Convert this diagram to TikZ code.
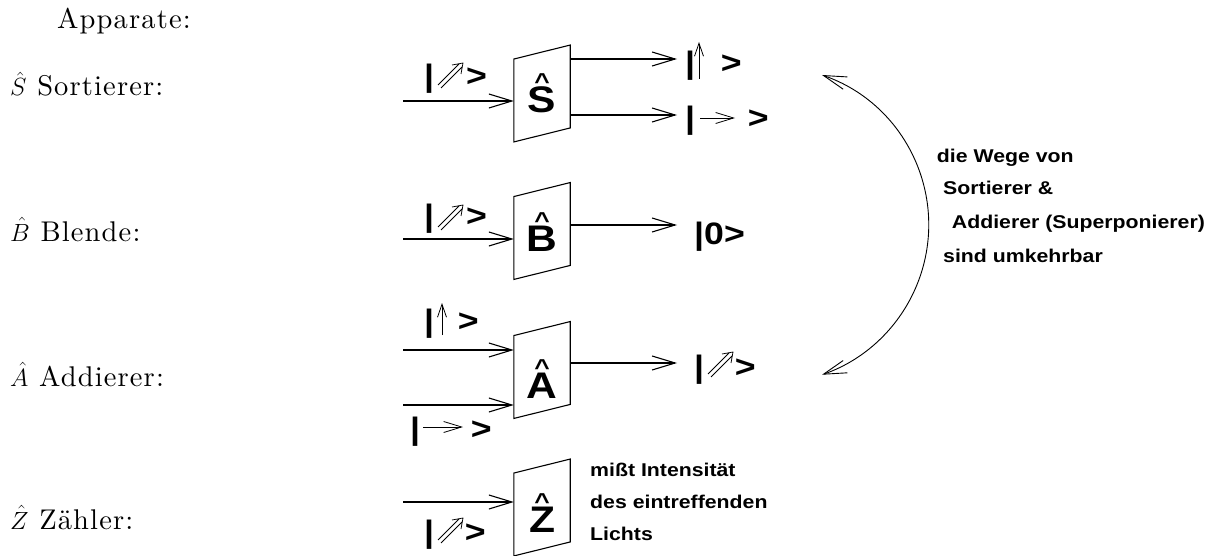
\documentclass[tikz,border=0pt]{standalone}
\usepackage{fontspec}
\usetikzlibrary{arrows.meta}
\newfontfamily\hv{Liberation Sans}[FakeStretch=1.15]
\newfontfamily\lmr{lmroman10-regular}[Extension=.otf, LetterSpace=4]
\newcommand\hatL[1]{\setbox0\hbox{#1}\rlap{\hbox to \wd0{\hss\raisebox{23pt}{\fontsize{23}{23}\selectfont\textasciicircum}\hss}}\box0}
\tikzset{
  ar/.style={line width=1.1pt, -{Straight Barb[length=23pt,width=14pt,line width=1.1pt]}},
  sar/.style={line width=0.8pt, -{Straight Barb[length=13pt,width=9pt,line width=0.8pt]}},
  rar/.style={line width=0.8pt, -{Straight Barb[length=18pt,width=11pt,line width=0.8pt]}},
  box/.style={minimum width=56pt, minimum height=96.5pt, inner sep=0pt},
  boxline/.style={line width=1.1pt, line join=miter},
  bigl/.style={font=\hv\bfseries\fontsize{37}{37}\selectfont, inner sep=0pt, anchor=base},
  ket/.style={font=\hv\bfseries\fontsize{31}{31}\selectfont, inner sep=0pt, anchor=base west},
  note/.style={font=\hv\bfseries\fontsize{18.5}{22}\selectfont, inner sep=0pt, anchor=base west},
  lbl/.style={font=\lmr\fontsize{28.5}{30}\selectfont, inner sep=0pt, anchor=base west},
  nearr/.pic={\draw[line width=0.75pt] (0,-3) -- (21,-24) (3,0) -- (24,-21) (14,-23) -- (25,-25) -- (23,-14);}
}
\begin{document}
\begin{tikzpicture}[x=1pt,y=-1pt]
\useasboundingbox (0,0) rectangle (1229,556);

% left labels
\node[lbl] (tA) at (57,29) {Apparate:};
\node[lbl] (tS) at (10,96) {$\hat{S}$ Sortierer:};
\node[lbl] (tB) at (10,241) {$\hat{B}$ Blende:};
\node[lbl] (tAd) at (10,386) {$\hat{A}$ Addierer:};
\node[lbl] (tZ) at (10,529) {$\hat{Z}$ Zähler:};

% boxes
\foreach \n/\y in {S/93.5, B/231, A/370, Z/507.5}{
  \node[box] (\n) at (542,\y) {};
  \draw[boxline] (\n.south west) -- ([yshift=-14pt]\n.north west) -- (\n.north east) -- ([yshift=14pt]\n.south east) -- cycle;
}
\node[bigl] (Sl) at (542,113) {\hatL{S}};
\node[bigl] (Bl) at (542,251.5) {\hatL{B}};
\node[bigl] (Al) at (542,398) {\hatL{A}};
\node[bigl] (Zl) at (542,532) {\hatL{Z}};

% connectors
\coordinate (Sin) at (403,101);
\coordinate (Sout1) at (677,59);
\coordinate (Sout2) at (677,115);
\draw[ar] (Sin) -- (Sin -| S.west);
\draw[ar] (Sout1 -| S.east) -- (Sout1);
\draw[ar] (Sout2 -| S.east) -- (Sout2);

\coordinate (Bin) at (403,239);
\coordinate (Bout) at (677,225);
\draw[ar] (Bin) -- (Bin -| B.west);
\draw[ar] (Bout -| B.east) -- (Bout);

\coordinate (Ain1) at (403,350);
\coordinate (Ain2) at (403,405);
\coordinate (Aout) at (677,363);
\draw[ar] (Ain1) -- (Ain1 -| A.west);
\draw[ar] (Ain2) -- (Ain2 -| A.west);
\draw[ar] (Aout -| A.east) -- (Aout);

\coordinate (Zin) at (403,502);
\draw[ar] (Zin) -- (Zin -| Z.west);

% kets
\node[ket] (kSin) at (424,87) {|\hspace{32pt}>};
\pic at (438,88) {nearr};
\node[ket] (kSup) at (685,74) {|\hspace{25.7pt}>};
\coordinate (uS1) at (699,79); \coordinate (uS2) at (699,42);
\draw[sar] (uS1) -- (uS2);
\node[ket] (kSrt) at (685,129) {|\hspace{52.7pt}>};
\coordinate (rS1) at (700,118); \coordinate (rS2) at (735,118);
\draw[rar] (rS1) -- (rS2);

\node[ket] (kBin) at (424,226) {|\hspace{32pt}>};
\pic at (438,230) {nearr};
\node[ket] (kB0) at (694,244) {|0>};

\node[ket] (kAup) at (424,331) {|\hspace{23.7pt}>};
\coordinate (uA1) at (442,335); \coordinate (uA2) at (442,303);
\draw[sar] (uA1) -- (uA2);
\node[ket] (kArt) at (410,439) {|\hspace{50.7pt}>};
\coordinate (rA1) at (423,427); \coordinate (rA2) at (463,427);
\draw[rar] (rA1) -- (rA2);
\node[ket] (kAout) at (694,377) {|\hspace{30.7pt}>};
\pic at (708,377) {nearr};

\node[ket] (kZin) at (424,542) {|\hspace{30.7pt}>};
\pic at (438,543) {nearr};

% arc
\coordinate (arcT) at (822,75);
\draw[line width=0.9pt, {Straight Barb[length=23pt,width=13pt,line width=0.9pt]}-{Straight Barb[length=23pt,width=13pt,line width=0.9pt]}] (arcT) arc[start angle=-70.9, end angle=70.9, radius=158.6];

% notes
\node[note] (n1) at (936.7,163) {die Wege von};
\node[note] (n2) at (943,195) {Sortierer \&};
\node[note] (n3) at (951.7,229) {Addierer (Superponierer)};
\node[note] (n4) at (943,262) {sind umkehrbar};

\node[note] (z1) at (590,476) {mißt Intensität};
\node[note] (z2) at (590,508) {des eintreffenden};
\node[note] (z3) at (590,540) {Lichts};
\end{tikzpicture}
\end{document}
